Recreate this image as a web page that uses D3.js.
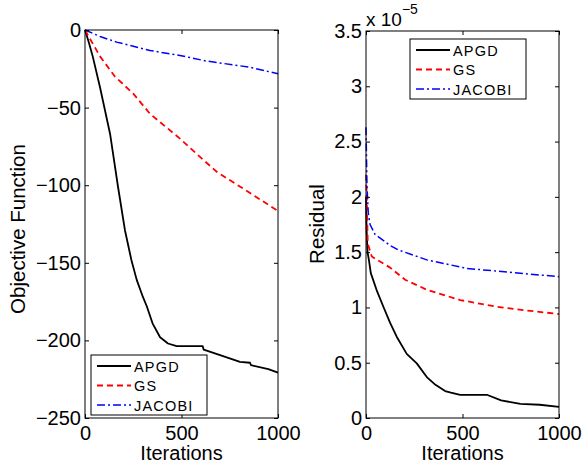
<!DOCTYPE html>
<html><head><meta charset="utf-8">
<script src="https://cdn.jsdelivr.net/npm/d3@7/dist/d3.min.js"></script>
<style>
body{margin:0;background:#fff;}
svg text{font-family:"Liberation Sans",Arial,Helvetica,sans-serif;fill:#000;}
</style></head><body>
<script>
// ---- data ----
const seriesNames = ["APGD", "GS", "JACOBI"];
const xTicks = [0, 500, 1000];
const objTicks = [0, -50, -100, -150, -200, -250];
const resTicks = [0, 0.5, 1, 1.5, 2, 2.5, 3, 3.5];

const objApgdIt = [0, 20, 40, 78, 130, 171, 207, 240, 268, 300, 320, 350, 389, 430, 475, 540, 610, 615, 700, 803, 855, 860, 950, 1000];
const objApgdV  = [0, -8, -17, -37, -67, -101, -129, -148, -161, -172, -178, -189, -198, -202, -203.7, -203.7, -203.7, -206, -209.5, -213.8, -214.4, -216, -218.5, -220.8];
const objGsIt = [0, 78, 155, 250, 337, 492, 596, 684, 855, 1000];
const objGsV  = [0, -17, -30, -41, -54, -70, -81.8, -91.5, -105, -116.6];
const objJacIt = [0, 78, 164, 337, 492, 629, 855, 1000];
const objJacV  = [0, -4.2, -7.8, -13.2, -16.4, -20, -24, -28.2];

const resApgdIt = [0, 3, 8, 15, 25, 55, 90, 125, 159, 211, 263, 315, 360, 410, 440, 488, 626, 700, 800, 900, 1000];
const resApgdV  = [2.0, 1.7, 1.5, 1.43, 1.31, 1.157, 1.006, 0.86, 0.735, 0.58, 0.494, 0.37, 0.3, 0.244, 0.23, 0.21, 0.21, 0.16, 0.127, 0.12, 0.10];
const resGsIt = [0, 3, 9, 30, 125, 203, 315, 488, 678, 816, 1000];
const resGsV  = [2.2, 2.05, 1.58, 1.46, 1.36, 1.25, 1.16, 1.067, 1.006, 0.976, 0.94];
const resJacIt = [0, 5, 12, 21, 47, 125, 168, 315, 522, 730, 1000];
const resJacV  = [2.63, 2.1, 1.85, 1.75, 1.66, 1.56, 1.52, 1.43, 1.353, 1.32, 1.278];

// ---- styles ----
const styles = [
  {color:"#000", dash:null, w:1.8},
  {color:"#ff0000", dash:"6,4", w:1.8},
  {color:"#0000ff", dash:"8,3,2,3", w:1.5}
];

const W = 582, H = 468;
const svg = d3.select("body").append("svg").attr("width", W).attr("height", H);

function panel(opt){
  const g = svg.append("g");
  const x = d3.scaleLinear().domain([0,1000]).range([opt.x0, opt.x1]);
  const y = d3.scaleLinear().domain(opt.yDomain).range([opt.y1, opt.y0]);
  opt.series.forEach((s,i)=>{
    const pts = s.it.map((d,j)=>[d, s.v[j]]);
    g.append("path").datum(pts)
      .attr("d", d3.line().x(d=>x(d[0])).y(d=>y(d[1])))
      .attr("fill","none").attr("stroke",styles[i].color)
      .attr("stroke-width",styles[i].w)
      .attr("stroke-dasharray",styles[i].dash)
      .attr("stroke-linejoin","round");
  });
  const tl = 4;
  const ax = g.append("g").attr("transform",`translate(0,${opt.y1})`)
    .call(d3.axisBottom(x).tickValues(xTicks).tickSize(-tl).tickPadding(8).tickFormat(d3.format("d")));
  const axT = g.append("g").attr("transform",`translate(0,${opt.y0})`)
    .call(d3.axisTop(x).tickValues(xTicks).tickSize(-tl).tickFormat(""));
  const ay = g.append("g").attr("transform",`translate(${opt.x0},0)`)
    .call(d3.axisLeft(y).tickValues(opt.yTicks).tickSize(-tl).tickPadding(4).tickFormat(opt.fmt));
  const ayR = g.append("g").attr("transform",`translate(${opt.x1},0)`)
    .call(d3.axisRight(y).tickValues(opt.yTicks).tickSize(-tl).tickFormat(""));
  [ax,axT,ay,ayR].forEach(a=>{
    a.select(".domain").remove();
    a.selectAll("line").attr("stroke","#000").attr("stroke-width",1);
    a.selectAll("text").style("font-size","20px").attr("fill","#000");
  });
  g.append("rect").attr("x",opt.x0).attr("y",opt.y0)
    .attr("width",opt.x1-opt.x0).attr("height",opt.y1-opt.y0)
    .attr("fill","none").attr("stroke","#000").attr("stroke-width",1);
  g.append("text").attr("x",(opt.x0+opt.x1)/2).attr("y",460)
    .attr("text-anchor","middle").style("font-size","20px").text("Iterations");
  g.append("text").attr("transform",`translate(${opt.ylx},${opt.ylc}) rotate(-90)`)
    .attr("text-anchor","middle").style("font-size","20.5px").text(opt.ylabel);
  const L = opt.legend;
  g.append("rect").attr("x",L.x).attr("y",L.y).attr("width",116).attr("height",60)
    .attr("fill","#fff").attr("stroke","#000").attr("stroke-width",1);
  seriesNames.forEach((n,i)=>{
    const yy = L.y + 11 + i*19.5;
    g.append("line").attr("x1",L.x+6).attr("x2",L.x+40).attr("y1",yy).attr("y2",yy)
      .attr("stroke",styles[i].color).attr("stroke-width",styles[i].w)
      .attr("stroke-dasharray",styles[i].dash);
    g.append("text").attr("x",L.x+43).attr("y",yy+5.5)
      .style("font-size","14.5px").style("letter-spacing","1.2px").text(n);
  });
  return {x,y};
}

const fmtMinus = d => d3.format("d")(d).replace("-", "\u2212");

panel({x0:85, x1:278, y0:30, y1:418, yDomain:[-250,0], yTicks:objTicks, fmt:fmtMinus,
  ylabel:"Objective Function", ylx:25, ylc:229,
  series:[{it:objApgdIt,v:objApgdV},{it:objGsIt,v:objGsV},{it:objJacIt,v:objJacV}],
  legend:{x:91,y:355}});

panel({x0:366, x1:559, y0:31, y1:418, yDomain:[0,3.5], yTicks:resTicks, fmt:d=>String(d),
  ylabel:"Residual", ylx:324, ylc:224,
  series:[{it:resApgdIt,v:resApgdV},{it:resGsIt,v:resGsV},{it:resJacIt,v:resJacV}],
  legend:{x:410,y:39}});

const ex = svg.append("text").attr("x",366).attr("y",26).style("font-size","19px");
ex.append("tspan").text("x 10");
ex.append("tspan").attr("dy",-12).style("font-size","14px").text("\u22125");
</script>
</body></html>
